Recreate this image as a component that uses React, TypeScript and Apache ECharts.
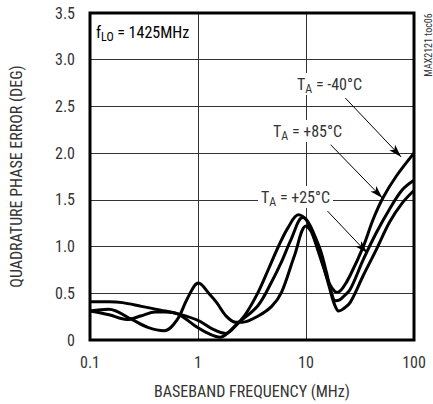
import React, { useEffect, useRef } from "react";
import * as echarts from "echarts";

// ---- data ----
const xTickValues = [0.1, 1, 10, 100];
const yMin = 0;
const yMax = 3.5;
const yStep = 0.5;

// curve ending highest (T_A = -40°C, arrow at top)
const freqC = [0.1, 0.15, 0.22, 0.3, 0.4, 0.5, 0.65, 1.0, 1.3, 1.6, 2.2, 2.7, 3.6, 4.5, 5.5, 6.8, 8.5, 10, 11.5, 12.8, 14.5, 16.5, 18.5, 19.6, 22, 25.6, 33.9, 41.8, 51.5, 68.2, 100];
const valC = [0.31, 0.27, 0.22, 0.26, 0.30, 0.30, 0.28, 0.13, 0.06, 0.03, 0.15, 0.26, 0.51, 0.76, 0.99, 1.20, 1.34, 1.29, 1.13, 0.97, 0.78, 0.60, 0.52, 0.51, 0.56, 0.69, 1.00, 1.29, 1.52, 1.75, 2.00];

// curve flat at 0.4 on the left (middle at the right end)
const freqA = [0.1, 0.15, 0.2, 0.3, 0.45, 0.65, 1.0, 1.4, 1.8, 2.4, 3.6, 4.8, 5.9, 7.3, 9.3, 10.5, 12, 13.7, 15.5, 17, 18.7, 20.5, 22, 25.6, 33.9, 44.9, 59.3, 78.3, 100];
const valA = [0.41, 0.41, 0.40, 0.36, 0.32, 0.28, 0.21, 0.11, 0.07, 0.19, 0.37, 0.62, 0.83, 1.08, 1.31, 1.26, 1.12, 0.95, 0.72, 0.53, 0.42, 0.43, 0.46, 0.54, 0.86, 1.15, 1.40, 1.61, 1.71];

// curve with the bump at 1 MHz (lowest at the right end)
const freqB = [0.1, 0.149, 0.243, 0.343, 0.488, 0.644, 0.794, 1.01, 1.28, 1.49, 1.81, 2.23, 2.56, 3.64, 4.81, 5.93, 7.8, 10, 11.2, 12.8, 14.7, 16.5, 18.1, 20.1, 22, 25.6, 33.9, 44.9, 59.3, 78.3, 100];
const valB = [0.31, 0.33, 0.22, 0.135, 0.10, 0.22, 0.44, 0.61, 0.49, 0.40, 0.26, 0.19, 0.19, 0.26, 0.36, 0.51, 0.90, 1.22, 1.16, 1.00, 0.77, 0.56, 0.40, 0.31, 0.33, 0.40, 0.69, 0.97, 1.26, 1.47, 1.60];

// annotation arrows: [from, to] in data units (MHz, DEG)
const arrowM40 = [[23.1, 2.59], [76, 1.96]];
const arrowP85 = [[16.9, 2.09], [51, 1.52]];
const arrowP25 = [[15.8, 1.38], [37, 0.93]];

const FONT = "'Liberation Sans Narrow', 'Arial Narrow', 'Roboto Condensed', 'Liberation Sans', sans-serif";
const TEXT = "#333";

const pairs = (f: number[], v: number[]) => f.map((x, i) => [x, v[i]]);

const arrowData = (a: number[][]) => [
  { coord: a[0], symbol: "none" },
  { coord: a[1], symbol: "arrow", symbolSize: [6, 13] },
];

const subRich = {
  t: { fontSize: 16, fontFamily: FONT, color: TEXT, lineHeight: 22 },
  s: { fontSize: 12, fontFamily: FONT, color: TEXT, lineHeight: 11, verticalAlign: "bottom" },
};

export default function App() {
  const ref = useRef<HTMLDivElement>(null);
  useEffect(() => {
    if (!ref.current) return;
    const chart = echarts.init(ref.current, undefined, { renderer: "svg" });
    const curve = (name: string, f: number[], v: number[], extra: any = {}) => ({
      name,
      type: "line",
      data: pairs(f, v),
      smooth: 0.35,
      showSymbol: false,
      symbol: "none",
      lineStyle: { color: "#000", width: 3 },
      z: 3,
      ...extra,
    });
    const label = (text: string, x: number, y: number) => ({
      type: "text",
      x,
      y,
      z: 10,
      style: {
        text,
        rich: subRich,
        fill: TEXT,
        backgroundColor: "#fff",
        padding: [0, 3, 0, 3],
      },
    });
    chart.setOption({
      animation: false,
      backgroundColor: "#fff",
      textStyle: { fontFamily: FONT },
      grid: {
        left: 85,
        top: 13,
        right: 19,
        bottom: 63,
        show: true,
        borderColor: "#000",
        borderWidth: 3,
        z: 5,
      },
      xAxis: {
        type: "log",
        logBase: 10,
        min: xTickValues[0],
        max: xTickValues[xTickValues.length - 1],
        name: "BASEBAND FREQUENCY (MHz)",
        nameLocation: "middle",
        nameGap: 43,
        nameTextStyle: { fontSize: 16, color: TEXT, fontFamily: FONT },
        axisLine: { show: false },
        axisTick: { show: false },
        axisLabel: {
          fontSize: 16,
          color: TEXT,
          margin: 14,
          showMinLabel: true,
          showMaxLabel: true,
          formatter: (v: number) => String(Number(v.toPrecision(3))),
        },
        splitLine: { show: true, lineStyle: { color: "#333", width: 1 } },
      },
      yAxis: {
        type: "value",
        min: yMin,
        max: yMax,
        interval: yStep,
        name: "QUADRATURE PHASE ERROR (DEG)",
        nameLocation: "middle",
        nameGap: 66,
        nameTextStyle: { fontSize: 16, color: TEXT, fontFamily: FONT },
        axisLine: { show: false },
        axisTick: { show: false },
        axisLabel: {
          fontSize: 16,
          color: TEXT,
          margin: 15,
          formatter: (v: number) => (v === 0 ? "0" : v.toFixed(1)),
        },
        splitLine: { show: true, lineStyle: { color: "#333", width: 1 } },
      },
      series: [
        curve("T_A = -40°C", freqC, valC, {
          markLine: {
            silent: true,
            animation: false,
            label: { show: false },
            lineStyle: { color: "#000", width: 1, type: "solid" },
            z: 11,
            data: [arrowData(arrowM40), arrowData(arrowP85), arrowData(arrowP25)],
          },
        }),
        curve("T_A = +25°C", freqA, valA),
        curve("T_A = +85°C", freqB, valB),
      ],
      graphic: [
        {
          type: "text",
          x: 94,
          y: 21,
          z: 10,
          style: {
            text: "{t|f}{s|LO}{t| = 1425MHz}",
            rich: subRich,
            backgroundColor: "#fff",
            padding: [0, 4, 4, 2],
          },
        },
        label("{t|T}{s|A}{t| = -40°C}", 294, 73),
        label("{t|T}{s|A}{t| = +85°C}", 270, 120),
        label("{t|T}{s|A}{t| = +25°C}", 258, 186),
        {
          type: "text",
          x: 428,
          y: 45,
          rotation: Math.PI / 2,
          z: 10,
          style: {
            text: "MAX2121 toc06",
            fontSize: 10,
            fontFamily: FONT,
            fill: TEXT,
            align: "center",
            verticalAlign: "middle",
          },
        },
      ],
    });
    return () => chart.dispose();
  }, []);
  return (
    <div
      ref={ref}
      style={{ position: "fixed", left: 0, top: 0, width: 433, height: 404, background: "#fff" }}
    />
  );
}
